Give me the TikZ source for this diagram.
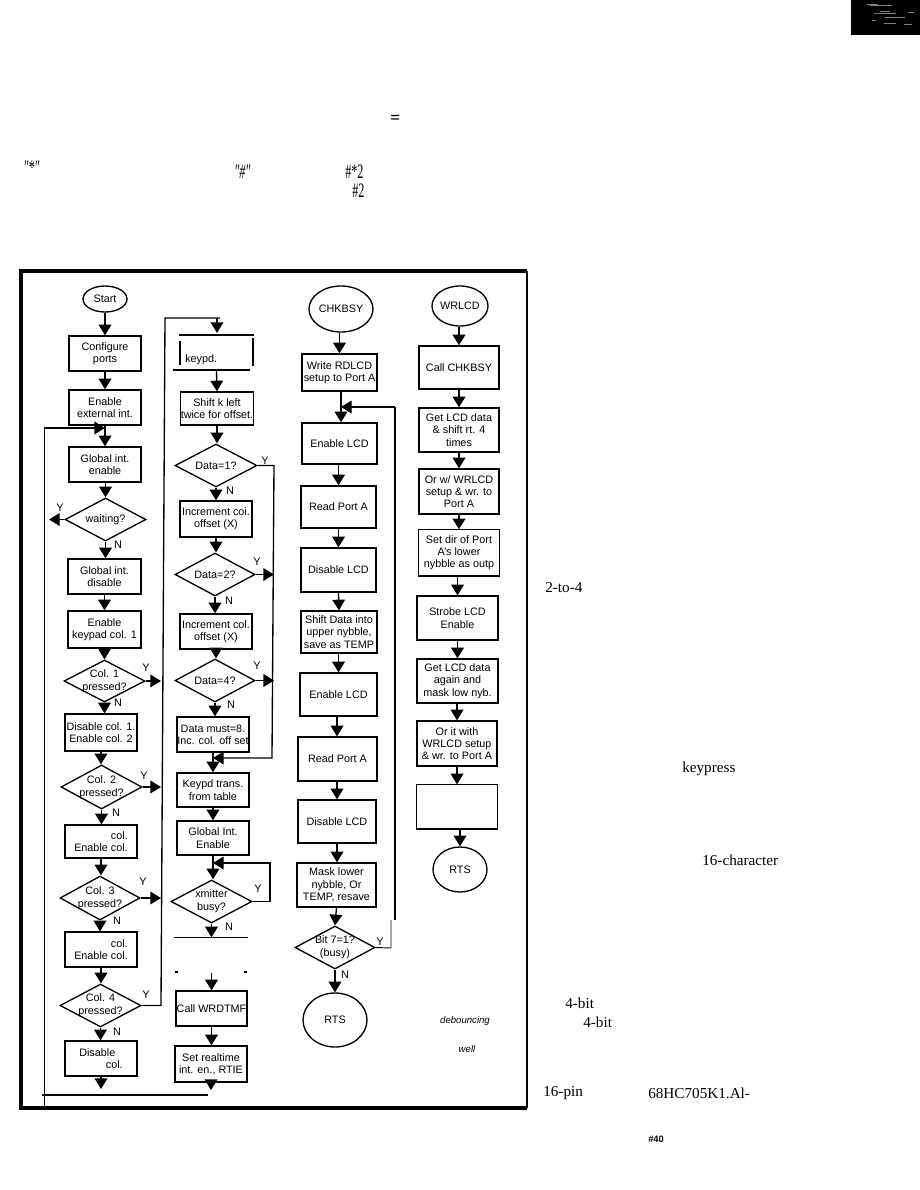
\documentclass[tikz,border=0pt]{standalone}
\usepackage{fontspec}
\setmainfont{Liberation Sans}
\newfontfamily\serif{Liberation Serif}
\usetikzlibrary{shapes.geometric,arrows.meta}
\tikzset{
 pbox/.style={draw,line width=1pt,rectangle,inner sep=0pt,align=center,font=\fontsize{8.1}{9.2}\selectfont},
 nobox/.style={pbox,draw=none},
 dmd/.style={draw,line width=1pt,diamond,inner sep=0pt},
 dlabel/.style={inner sep=0pt,align=center,font=\fontsize{8.1}{9.6}\selectfont},
 ell/.style={draw,line width=1pt,ellipse,inner sep=0pt,font=\fontsize{8.1}{9.6}\selectfont},
 flow/.style={line width=1pt,-{Triangle[length=8pt,width=9.5pt]}},
 wire/.style={line width=1pt},
 thin wire/.style={line width=.7pt},
 heavy wire/.style={line width=1.6pt},
 yn/.style={inner sep=0pt,font=\fontsize{8.2}{9}\selectfont},
 body/.style={inner sep=0pt,anchor=west,font=\fontsize{11.4}{13}\serif},
 frame/.style={line width=2.4pt},
}
\newcommand{\BX}[7][]{\pgfmathsetmacro\bxw{(#5-#3)*0.75}\pgfmathsetmacro\bxh{(#6-#4)*0.75}%
 \node[pbox,#1,minimum width=\bxw pt,minimum height=\bxh pt] (#2) at ({(#3+#5)/2},{(#4+#6)/2}) {#7};}
\newcommand{\DM}[6]{\pgfmathsetmacro\bxw{(#4-#2)*0.75}\pgfmathsetmacro\bxh{(#5-#3)*0.75}%
 \node[dmd,minimum width=\bxw pt,minimum height=\bxh pt,label={[dlabel]center:{#6}}] (#1) at ({(#2+#4)/2},{(#3+#5)/2}) {};}
\newcommand{\EL}[6]{\pgfmathsetmacro\bxw{(#4-#2)*0.75}\pgfmathsetmacro\bxh{(#5-#3)*0.75}%
 \node[ell,minimum width=\bxw pt,minimum height=\bxh pt] (#1) at ({(#2+#4)/2},{(#3+#5)/2}) {#6};}
\newcommand{\AR}[2]{\draw[flow] (#1.south -| #2.north) -- (#2.north);}
\newcommand{\TALL}[1]{\scalebox{0.8}[1.35]{#1}}
\begin{document}
\begin{tikzpicture}[x=0.75pt,y=-0.75pt]
\useasboundingbox (0,0) rectangle (920,1190);
% scan corner block
\fill[black] (851,0) rectangle (920,35);
\foreach \a/\b/\c in {867/878/4,870/892/5,880/890/11,874/896/13,885/905/17,884/896/23,872/876/20,908/914/12,904/912/24}
  \draw[gray,line width=.45pt] (\a,\c) -- (\b,\c);
% frame
\coordinate (fTL) at (21,271); \coordinate (fTR) at (527,271);
\coordinate (fBR) at (527,1108); \coordinate (fBL) at (21,1108);
\draw[frame] (fTR) -- (fTL) -- (fBL) -- (fBR);
\draw[heavy wire] (fTR) -- (fBR);
% column 1
\EL{start}{83}{286}{127}{312}{Start}
\BX{cfg}{69}{336}{141}{371}{Configure\\ports}
\BX{enx}{69}{390}{141}{425}{Enable\\external int.}
\coordinate (j1) at (105,428);
\BX{gie}{69}{447}{141}{482}{Global int.\\enable}
\DM{wait}{65}{498}{146}{541}{waiting?}
\BX{gid}{68}{559}{141}{594}{Global int.\\disable}
\BX{enk}{68}{611}{141}{648}{Enable\\keypad col. 1}
\DM{ca}{64}{660}{145}{702}{Col. 1\\pressed?}
\BX{dca}{65}{714}{137}{751}{Disable col. 1.\\Enable col. 2}
\DM{cb}{61}{765}{142}{809}{Col. 2\\pressed?}
\BX[align=right]{dcb}{65}{825}{137}{858}{col.\\Enable col.}
\DM{cc}{60}{876}{140}{920}{Col. 3\\pressed?}
\BX[align=right]{dcc}{65}{932}{137}{967}{col.\\Enable col.}
\DM{cd}{60}{984}{141}{1027}{Col. 4\\pressed?}
\BX[align=left]{dcd}{65}{1041}{137}{1076}{Disable\\\hspace{20pt}col.}
\coordinate (e1) at (101,1089);
\draw[flow] (start.south) -- (start.south |- cfg.north);
\AR{cfg}{enx}
\draw[wire] (enx.south) -- (j1);
\draw[flow] (j1) -- (gie.north);
\AR{gie}{wait}
\draw[flow] (wait.south) -- (wait.south |- gid.north);
\AR{gid}{enk}
\draw[flow] (enk.south) -- (enk.south |- ca.north);
\draw[flow] (ca.south) -- (ca.south |- dca.north);
\draw[flow] (dca.south) -- (dca.south |- cb.north);
\draw[flow] (cb.south) -- (cb.south |- dcb.north);
\draw[flow] (dcb.south) -- (dcb.south |- cc.north);
\draw[flow] (cc.south) -- (cc.south |- dcc.north);
\draw[flow] (dcc.south) -- (dcc.south |- cd.north);
\draw[flow] (cd.south) -- (cd.south |- dcd.north);
\draw[flow] (dcd.south) -- (e1);
% left return line
\coordinate (lb) at (44,1108); \coordinate (lt) at (44,428);
\draw[thin wire] (lb) -- (lt);
\draw[flow] (lt) -- (j1);
\coordinate (wy) at (49,519.5);
\draw[flow] (wait.west) -- (wy);
\coordinate (ba) at (42,1095); \coordinate (bb) at (208,1095);
\draw[wire] (ba) -- (bb);
% bus between col1 and col2
\coordinate (rt) at (165,318); \coordinate (rb) at (161,1005.5);
\coordinate (tt) at (220,318); \coordinate (tk) at (217,318); \coordinate (ta) at (217,333);
\draw[wire] (cd.east) -- (rb) -- (rt) -- (tt);
\draw[flow] (tk) -- (ta);
\foreach \n in {ca,cb,cc}{\draw[flow] (\n.east) -- (\n.east -| rb);}
% column 2
\BX[nobox]{kp}{180}{336}{253}{370}{}
\node[dlabel,anchor=west] (kpt) at (185,360) {keypd.};
\coordinate (kpa) at (180,341); \coordinate (kpb) at (180,365);
\coordinate (kpc) at (253,338); \coordinate (kpd) at (253,366);
\coordinate (kpe) at (173,370); \coordinate (kpf) at (250,370);
\draw[heavy wire] (kp.north west) -- (kp.north east);
\draw[heavy wire] (kpa) -- (kpb); \draw[heavy wire] (kpc) -- (kpd); \draw[heavy wire] (kpe) -- (kpf);
\BX{shk}{181}{392}{253}{425}{Shift k left\\twice for offset.}
\DM{da}{175}{444}{257}{487}{Data=1?}
\BX{ia}{180}{501}{252}{537}{Increment coi.\\offset (X)}
\DM{db}{175}{553}{255}{596}{Data=2?}
\BX{ib}{180}{614}{252}{649}{Increment col.\\offset (X)}
\DM{dc}{175}{659}{255}{702}{Data=4?}
\BX{dm}{177}{717}{249}{752}{Data must=8.\\Inc. col. off set}
\coordinate (j2) at (213,758);
\BX{kt}{177}{773}{249}{807}{Keypd trans.\\from table}
\BX{ge}{177}{821}{249}{855}{Global Int.\\Enable}
\coordinate (j3) at (213,863);
\DM{xm}{171}{880}{252}{923}{xmitter\\busy?}
\BX[nobox]{em}{175}{938}{247}{972}{}
\draw[wire] (em.north west) -- (em.north east);
\coordinate (ema) at (178,972); \coordinate (emb) at (247,972); \coordinate (emc) at (244,972); \coordinate (emd) at (175,972);
\draw[wire] (emd) -- (ema); \draw[wire] (emc) -- (emb);
\BX{wd}{176}{991}{247}{1026}{Call WRDTMF}
\BX{sr}{175}{1046}{247}{1082}{Set realtime\\int. en., RTIE}
\coordinate (e2) at (211,1090);
\draw[flow] (kp.south) -- (shk.north);
\draw[flow] (shk.south) -- (shk.south |- da.north);
\draw[flow] (da.south) -- (da.south |- ia.north);
\draw[flow] (ia.south) -- (ia.south |- db.north);
\draw[flow] (db.south) -- (db.south |- ib.north);
\draw[flow] (ib.south) -- (ib.south |- dc.north);
\draw[flow] (dc.south) -- (dc.south |- dm.north);
\draw[wire] (dm.south) -- (j2);
\draw[flow] (j2) -- (j2 |- kt.north);
\draw[flow] (kt.south) -- (kt.south |- ge.north);
\draw[wire] (ge.south -| j3) -- (j3);
\draw[flow] (j3) -- (j3 |- xm.north);
\draw[flow] (xm.south) -- (xm.south |- em.north);
\draw[flow] (em.south -| wd.north) -- (wd.north);
\draw[flow] (wd.south) -- (wd.south |- sr.north);
\draw[flow] (sr.south) -- (e2);
\coordinate (sa) at (274,465.5); \coordinate (sb) at (272,758);
\draw[flow] (da.east) -- (sa) -- (sb) -- (j2);
\draw[flow] (db.east) -- (db.east -| sa);
\draw[flow] (dc.east) -- (dc.east -| sa);
\coordinate (xa) at (270,901.5); \coordinate (xb) at (270,863);
\draw[flow] (xm.east) -- (xa) -- (xb) -- (j3);
% column 3
\EL{chk}{309}{286}{373}{332}{CHKBSY}
\BX{wr}{302}{354}{377}{391}{Write RDLCD\\setup to Port A}
\coordinate (j4) at (341,407);
\BX{ena}{302}{423}{377}{464}{Enable LCD}
\BX{rpa}{301}{486}{376}{528}{Read Port A}
\BX{dia}{301}{548}{376}{592}{Disable LCD}
\BX{shd}{301}{611}{377}{653}{Shift Data into\\upper nybble,\\save as TEMP}
\BX{enb}{300}{673}{377}{716}{Enable LCD}
\BX{rpb}{298}{737}{377}{781}{Read Port A}
\BX{dib}{298}{800}{376}{843}{Disable LCD}
\BX{msk}{297}{863}{376}{907}{Mask lower\\nybble, Or\\TEMP, resave}
\DM{bit}{295}{926}{375}{969}{Bit 7=1?\\(busy)}
\EL{rts}{303}{993}{367}{1047}{RTS}
\draw[flow] (chk.south -| wr.north) -- (wr.north);
\draw[wire] (wr.south -| j4) -- (j4);
\draw[flow] (j4) -- (j4 |- ena.north);
\draw[flow] (ena.south -| rpa.north) -- (rpa.north);
\draw[flow] (rpa.south) -- (dia.north);
\draw[flow] (dia.south) -- (shd.north);
\draw[flow] (shd.south -| enb.north) -- (enb.north);
\draw[flow] (enb.south -| dib.north) -- (rpb.north -| dib.north);
\draw[flow] (rpb.south -| dib.north) -- (dib.north);
\draw[flow] (dib.south) -- (dib.south |- msk.north);
\draw[flow] (msk.south) -- (bit.north);
\draw[flow] (bit.south) -- (rts.north);
\coordinate (la) at (391,948); \coordinate (lc) at (391,920); \coordinate (ld) at (395,920); \coordinate (le) at (395,407);
\draw[thin wire] (bit.east) -- (la) -- (lc);
\draw[heavy wire] (ld) -- (le);
\draw[flow] (le) -- (j4);
% column 4
\EL{wrl}{433}{286}{487}{326}{WRLCD}
\BX{cc4}{419}{346}{499}{389}{Call CHKBSY}
\BX{gl}{419}{408}{499}{452}{Get LCD data\\\& shift rt. 4\\times}
\BX{orw}{419}{469}{499}{514}{Or w/ WRLCD\\setup \& wr. to\\Port A}
\BX[draw=none]{sd}{419}{530}{499}{575}{Set dir of Port\\A's lower\\nybble as outp}
\draw[wire] (sd.north east) -- (sd.north west) -- (sd.south west);
\draw[wire] (sd.north east) -- (sd.south east);
\draw[heavy wire] (sd.south west) -- (sd.south east);
\BX{sl}{417}{596}{498}{640}{Strobe LCD\\Enable}
\BX{gd}{417}{659}{498}{703}{Get LCD data\\again and\\mask low nyb.}
\BX{orl}{417}{721}{497}{766}{Or it with\\WRLCD setup\\\& wr. to Port A}
\BX[nobox]{em4}{417}{785}{497}{828}{}
\draw[wire] (em4.south west) -- (em4.north west) -- (em4.north east) -- (em4.south east);
\draw[heavy wire] (em4.south west) -- (em4.south east);
\EL{rt4}{433}{847}{487}{892}{RTS}
\draw[flow] (wrl.south -| cc4.north) -- (cc4.north);
\AR{cc4}{gl}\AR{gl}{orw}\AR{orw}{sd}\AR{sd}{sl}\AR{sl}{gd}\AR{gd}{orl}\AR{orl}{em4}\AR{em4}{rt4}
% Y / N labels
\node[yn] (ya) at (60,508) {Y};
\node[yn] (yb) at (146,668) {Y};
\node[yn] (yc) at (144,776) {Y};
\node[yn] (yd) at (143,882) {Y};
\node[yn] (ye) at (146,995) {Y};
\node[yn] (yf) at (265,461) {Y};
\node[yn] (yg) at (257,562) {Y};
\node[yn] (yh) at (257,666) {Y};
\node[yn] (yi) at (258,889) {Y};
\node[yn] (yj) at (380,942) {Y};
\node[yn] (na) at (118,545) {N};
\node[yn] (nb) at (118,703) {N};
\node[yn] (nc) at (116,813) {N};
\node[yn] (nd) at (117,921) {N};
\node[yn] (ne) at (117,1032) {N};
\node[yn] (nf) at (230,491) {N};
\node[yn] (ng) at (229,601) {N};
\node[yn] (nh) at (231,705) {N};
\node[yn] (ni) at (229,927) {N};
\node[yn] (nj) at (345,975) {N};
\node[yn,font=\fontsize{7.2}{9}\selectfont\itshape] (ita) at (465,1021) {debouncing};
\node[yn,font=\fontsize{7.2}{9}\selectfont\itshape] (itb) at (467,1049) {well};
% stray text
\node[body] (t1) at (23,168) {\TALL{\itshape"*"}};
\node[body] (t2) at (234,172) {\TALL{\itshape"\#"}};
\node[body] (t3) at (345,172) {\TALL{\#*2}};
\node[body] (t4) at (352,191) {\TALL{\#2}};
\node[body,font=\fontsize{13}{14}\bfseries\serif] (t5) at (390,119) {=};
\node[body] (r1) at (545,588) {2-to-4};
\node[body] (r2) at (682,769) {keypress};
\node[body] (r3) at (702,860) {16-character};
\node[body] (r4) at (565,1003) {4-bit};
\node[body] (r5) at (583,1022) {4-bit};
\node[body] (r6) at (543,1093) {16-pin};
\node[body] (r7) at (648,1093) {68HC705K1.Al-};
\node[body,font=\fontsize{7}{8}\selectfont\bfseries] (r8) at (648,1139) {\#40};
\end{tikzpicture}
\end{document}
